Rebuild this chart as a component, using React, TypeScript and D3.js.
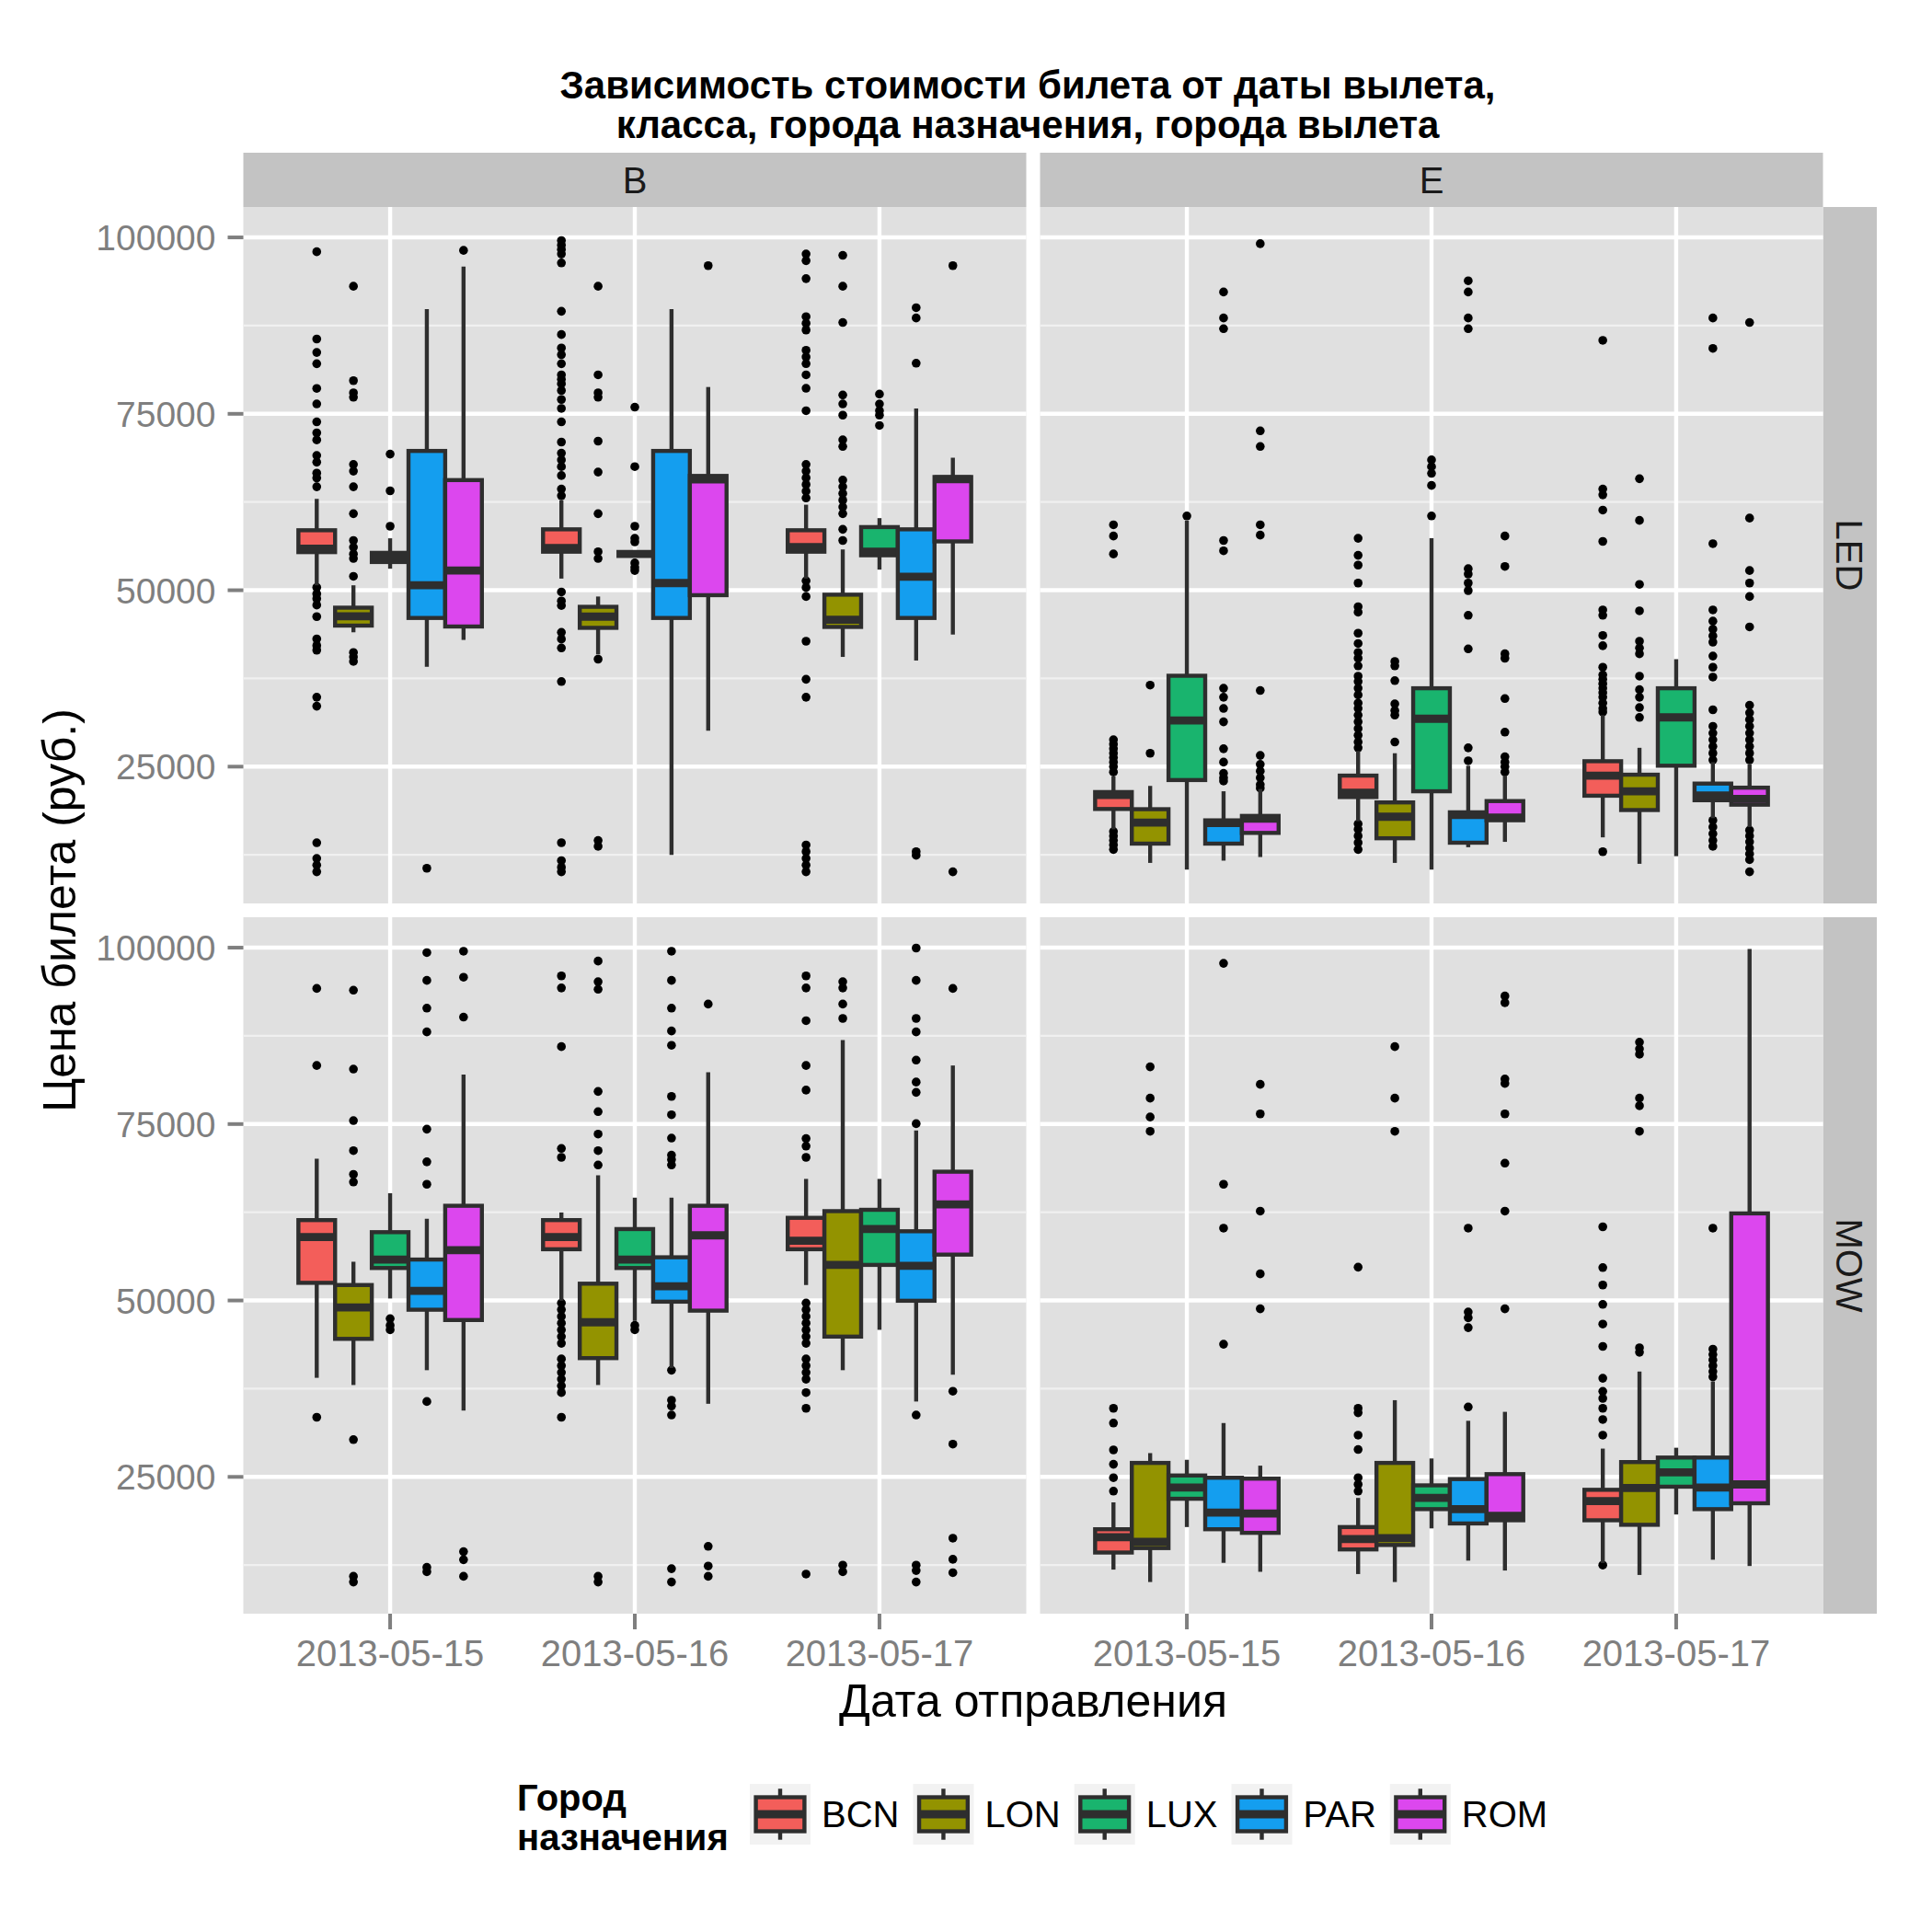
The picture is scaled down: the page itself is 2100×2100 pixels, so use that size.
import React from "react";
import * as d3 from "d3";

// ---------- data ----------
const dates = ["2013-05-15", "2013-05-16", "2013-05-17"];
const cities = ["BCN", "LON", "LUX", "PAR", "ROM"];
const classes = ["B", "E"];
const origins = ["LED", "MOW"];
const cityColors = ["#F35E5A", "#939300", "#19B46E", "#149EEF", "#DC47EE"];
const yTicks = [25000, 50000, 75000, 100000];
const yMinorTicks = [12500, 37500, 62500, 87500];
const yDomain = [5614, 104310];

// box stats per (date, city): [lower whisker, q1, median, q3, upper whisker]
const statsB_LED = [
  [50700, 55400, 55900, 58500, 62950],
  [44040, 44990, 46320, 47530, 50700],
  [53050, 54000, 54700, 55300, 57360],
  [39150, 46070, 50700, 69740, 89850],
  [42960, 44860, 52800, 65610, 95880],
  [51650, 55460, 55970, 58630, 62750],
  [40900, 44670, 46260, 47650, 49110],
  [55140, 55140, 55140, 55140, 55140],
  [12500, 46070, 51020, 69740, 89850],
  [30080, 49300, 65700, 66200, 78800],
  [51650, 55460, 56100, 58500, 62120],
  [40550, 44800, 45810, 49370, 55780],
  [52920, 54950, 55460, 58950, 60220],
  [40040, 46070, 51910, 58630, 75760],
  [43720, 56920, 65740, 66050, 68780],
];
const outB_LED = [
  [97970, 85600, 83700, 82100, 78600, 76400, 73860, 72300, 71300, 69100, 68150, 66600, 65900, 64660, 50400, 49500, 48800, 47900, 46260, 43100, 42150, 41500, 34840, 33570, 14210, 12000, 11050, 10100],
  [93080, 79700, 77980, 77350, 67830, 66880, 64660, 60850, 57050, 56100, 55140, 54500, 51970, 41180, 40550, 39910],
  [69290, 64090, 59070],
  [10600],
  [98160],
  [99560, 98900, 98290, 97650, 96380, 89530, 86230, 84330, 83380, 82100, 80520, 79890, 79250, 78300, 77030, 75760, 73860, 71000, 69420, 68470, 67520, 66250, 64340, 63390, 49750, 48480, 47840, 44040, 43080, 41820, 37060, 14220, 11680, 10730, 10100],
  [93080, 80520, 77980, 77350, 71130, 66750, 60850, 55460, 54500, 40230, 14530, 13700],
  [75950, 67520, 59070, 57360, 56850, 53870, 53240, 52800],
  [],
  [96000],
  [97650, 96700, 94160, 88770, 87820, 86870, 84010, 83060, 82110, 80520, 78620, 75440, 67830, 66880, 65930, 64980, 64030, 63070, 51330, 50380, 49110, 42770, 37380, 34840, 13900, 12950, 12000, 11050, 10100],
  [97460, 93080, 87940, 77670, 76400, 74810, 71320, 70370, 65610, 64660, 63710, 62750, 61800, 60850, 58630, 57050],
  [77790, 76400, 75440, 74810, 73350],
  [90040, 88580, 82170, 12950, 12440],
  [96000, 10100],
];

const statsE_LED = [
  [16120, 19000, 21000, 21400, 23610],
  [11360, 14090, 17070, 18970, 22270],
  [10410, 23100, 31540, 37880, 59900],
  [11680, 14090, 17010, 17390, 21510],
  [12190, 15610, 17640, 18020, 21830],
  [17260, 20690, 21320, 23730, 27220],
  [11360, 14850, 17900, 19930, 26900],
  [10410, 21510, 31790, 36110, 57360],
  [13580, 14220, 18150, 18530, 25130],
  [14340, 17400, 17800, 20120, 23730],
  [14980, 20880, 23730, 25770, 32300],
  [11230, 18850, 21510, 23860, 27670],
  [12310, 25130, 31980, 36110, 40230],
  [17700, 20240, 20900, 22600, 25640],
  [16440, 19610, 20430, 22020, 25320],
];
const outE_LED = [
  [59270, 57680, 55140, 28810, 28170, 27540, 26900, 26270, 25640, 25000, 24240, 15800, 15170, 14530, 13900, 13260],
  [36550, 26900],
  [60530],
  [92260, 88580, 87060, 57050, 55590, 36110, 34840, 33250, 31350, 27540, 25640, 24050, 23420, 22970],
  [99110, 72590, 70370, 59270, 57810, 35790, 26590, 25320, 24370, 23420, 22460, 21960],
  [57360, 54950, 53560, 51020, 47660, 46890, 43910, 42450, 41180, 40360, 39280, 37820, 37060, 36110, 35150, 34010, 33250, 32300, 31350, 30400, 29440, 28490, 27670, 16880, 16120, 15170, 14220, 13260],
  [39910, 39280, 37190, 33890, 32930, 32300, 28490],
  [68470, 67520, 66560, 64850, 60530],
  [93850, 92260, 88580, 87060, 53050, 52290, 51020, 49940, 46450, 41690, 27670, 25830],
  [57680, 53370, 40990, 40360, 34650, 29890, 26400, 25640, 25000, 24240],
  [85410, 64340, 63520, 61360, 56920, 47210, 46450, 43590, 42130, 39090, 38010, 37380, 36740, 36110, 35470, 34840, 34010, 33250, 32740, 12950],
  [65800, 59900, 50830, 47080, 42770, 41820, 40990, 37820, 35910, 34840, 33380, 31980],
  [],
  [88580, 84270, 56600, 47210, 45620, 44480, 43530, 42640, 40670, 39090, 37690, 33060, 30720, 29760, 28810, 27860, 26900, 25950, 17390, 16440, 15490, 14530, 13700],
  [87940, 60220, 52790, 51020, 49110, 44800, 33700, 32620, 31670, 30720, 29760, 28810, 27860, 26900, 25950, 15990, 15170, 14340, 13450, 12630, 11820, 10100],
];

const statsB_MOW = [
  [39040, 52500, 58980, 61390, 70090],
  [38020, 44560, 49010, 52190, 55490],
  [50280, 54600, 55800, 59680, 65200],
  [40120, 48690, 51360, 55800, 61580],
  [34400, 47230, 57140, 63420, 82030],
  [49960, 57260, 58980, 61390, 62470],
  [38020, 41830, 46910, 52380, 67740],
  [47100, 54600, 55800, 60120, 64570],
  [40440, 49830, 52000, 56120, 64570],
  [35360, 48560, 59230, 63420, 82350],
  [52190, 57260, 58470, 61710, 67230],
  [40120, 44880, 55040, 62660, 86920],
  [45840, 55040, 60120, 62850, 67230],
  [35680, 49960, 54920, 59810, 74090],
  [39480, 56500, 63620, 68250, 83300],
];
const outB_MOW = [
  [94220, 83300, 33450],
  [93970, 82790, 75490, 71230, 67870, 66790, 30280, 10910, 10100],
  [47420, 46470, 45840],
  [99300, 95360, 91430, 88060, 74280, 69650, 66470, 35680, 12180, 11550],
  [99490, 95810, 90160, 14400, 13260, 10910],
  [96000, 94290, 85970, 71550, 70280, 49640, 48690, 47740, 46790, 45830, 44880, 43930, 41710, 40750, 39800, 38850, 37900, 36940, 33450],
  [98100, 95170, 94100, 79620, 76760, 73580, 71230, 69200, 10910, 10100],
  [46470, 45840],
  [99490, 95360, 91430, 88190, 86160, 78920, 76320, 73010, 70600, 69970, 69200, 40120, 35870, 35040, 33770, 11990, 10100],
  [92000, 15160, 12370, 10910],
  [96000, 94290, 89650, 83300, 79810, 72950, 71870, 70280, 49640, 48690, 47740, 46790, 45830, 44880, 43930, 41710, 40750, 39800, 38850, 36940, 34720, 11230],
  [95170, 94290, 92000, 89970, 12500, 11550],
  [],
  [99940, 95360, 89970, 88060, 84060, 80950, 79490, 75050, 33770, 12500, 11730, 10100],
  [94220, 37140, 29640, 16310, 13320, 11420],
];

const statsE_MOW = [
  [11860, 14280, 16440, 17580, 21390],
  [10100, 14910, 15800, 26980, 28370],
  [17890, 21900, 23480, 25200, 27420],
  [12820, 17580, 19930, 24880, 32630],
  [11550, 17070, 19800, 24750, 26590],
  [11230, 14720, 16180, 17890, 22020],
  [10100, 15350, 16310, 26980, 35870],
  [17700, 20430, 22030, 23800, 27610],
  [13130, 18400, 20430, 24690, 32950],
  [11730, 18850, 19480, 25390, 34220],
  [12800, 18850, 21580, 23170, 29010],
  [11100, 18210, 23420, 27100, 39930],
  [19670, 23610, 25640, 27740, 29130],
  [13260, 20430, 23480, 27740, 38530],
  [12370, 21260, 23930, 62340, 99810],
];
const outE_MOW = [
  [34720, 32630, 28820, 26790, 24880, 22980],
  [83110, 78670, 76000, 73970],
  [],
  [97780, 66470, 60250, 43800],
  [80630, 76440, 62660, 53770, 48820],
  [54720, 34720, 34090, 30910, 28880, 24880, 23930, 22980],
  [85970, 78670, 73970],
  [],
  [60250, 48370, 47550, 46150, 34910],
  [93140, 92190, 81390, 80760, 76440, 69460, 62660, 48820],
  [60440, 54660, 52190, 49450, 46660, 43490, 38980, 37130, 36120, 34720, 33130, 30910, 12500],
  [86600, 85650, 84890, 78670, 77590, 73970, 43300, 42660],
  [],
  [60250, 43100, 42340, 41580, 40750, 39930, 39170],
  [],
];

const titleLines = ["Зависимость стоимости билета от даты вылета,", "класса, города назначения, города вылета"];
const xTitle = "Дата отправления";
const yTitle = "Цена билета (руб.)";
const legendTitle = ["Город", "назначения"];

// ---------- layout ----------
const W = 2100, H = 2100;
const FONT = '"Liberation Sans", Arial, Helvetica, sans-serif';
const panelW = 851, panelH = 757;
const colX = [264.5, 1130.5];
const rowY = [225, 997];
const stripTop = 166, stripH = 59;
const stripRightX = 1981.5, stripRightW = 58.5;
const PANEL_BG = "#E0E0E0";
const STRIP_BG = "#C3C3C3";
const MINOR = "#F0F0F0";
const OUTLINE = "#2E2E2E";
const LW = 4.4;

const panels = [
  { col: 0, row: 0, stats: statsB_LED, out: outB_LED },
  { col: 1, row: 0, stats: statsE_LED, out: outE_LED },
  { col: 0, row: 1, stats: statsB_MOW, out: outB_MOW },
  { col: 1, row: 1, stats: statsE_MOW, out: outE_MOW },
];

function measure(text: string, font: string) {
  const c = document.createElement("canvas").getContext("2d");
  if (!c) return text.length * 22;
  c.font = font;
  return c.measureText(text).width;
}

function Panel({ col, row, stats, out }: any) {
  const x = d3.scalePoint<string>().domain(dates).range([0, panelW]).padding(0.6);
  const step = x.step();
  const dodge = d3.scaleBand<string>().domain(cities).range([-0.375 * step, 0.375 * step]);
  const bw = dodge.bandwidth();
  const y = d3.scaleLinear().domain(yDomain).range([panelH, 0]);
  const items: any[] = [];
  dates.forEach((d, di) => {
    cities.forEach((c, ci) => {
      const idx = di * cities.length + ci;
      const [lo, q1, med, q3, hi] = stats[idx];
      const cx = (x(d) as number) + (dodge(c) as number) + bw / 2;
      items.push(
        <g key={idx}>
          {out[idx].map((v: number, k: number) => (
            <circle key={k} cx={cx} cy={y(v)} r={4.8} fill="#000" />
          ))}
          <line x1={cx} x2={cx} y1={y(hi)} y2={y(q3)} stroke={OUTLINE} strokeWidth={LW} />
          <line x1={cx} x2={cx} y1={y(q1)} y2={y(lo)} stroke={OUTLINE} strokeWidth={LW} />
          <rect x={cx - bw / 2} y={y(q3)} width={bw} height={Math.max(0, y(q1) - y(q3))}
            fill={cityColors[ci]} stroke={OUTLINE} strokeWidth={LW} />
          <line x1={cx - bw / 2} x2={cx + bw / 2} y1={y(med)} y2={y(med)} stroke={OUTLINE} strokeWidth={LW * 2} />
        </g>
      );
    });
  });
  return (
    <g transform={`translate(${colX[col]},${rowY[row]})`}>
      <rect x={0} y={0} width={panelW} height={panelH} fill={PANEL_BG} />
      {yMinorTicks.map((t) => (
        <line key={"m" + t} x1={0} x2={panelW} y1={y(t)} y2={y(t)} stroke={MINOR} strokeWidth={2.2} />
      ))}
      {yTicks.map((t) => (
        <line key={"M" + t} x1={0} x2={panelW} y1={y(t)} y2={y(t)} stroke="#FFFFFF" strokeWidth={LW} />
      ))}
      {dates.map((d) => (
        <line key={d} x1={x(d)} x2={x(d)} y1={0} y2={panelH} stroke="#FFFFFF" strokeWidth={LW} />
      ))}
      {items}
      {col === 0 &&
        yTicks.map((t) => (
          <g key={"yt" + t}>
            <line x1={-17} x2={0} y1={y(t)} y2={y(t)} stroke="#7F7F7F" strokeWidth={4} />
            <text x={-30} y={y(t)} dy="0.36em" textAnchor="end" fontSize={39} fill="#7F7F7F" fontFamily={FONT}>
              {t}
            </text>
          </g>
        ))}
      {row === 1 &&
        dates.map((d) => (
          <g key={"xt" + d}>
            <line x1={x(d)} x2={x(d)} y1={panelH} y2={panelH + 17} stroke="#7F7F7F" strokeWidth={4} />
            <text x={x(d)} y={panelH + 57} textAnchor="middle" fontSize={40} fill="#7F7F7F" fontFamily={FONT}>
              {d}
            </text>
          </g>
        ))}
    </g>
  );
}

function Legend() {
  const keyS = 66;
  const keyY = 1939;
  const font = `40px ${FONT}`;
  let kx = 815;
  const entries: any[] = [];
  cities.forEach((c, i) => {
    const lw = measure(c, font);
    const x0 = kx;
    const cx = x0 + keyS / 2;
    entries.push(
      <g key={c}>
        <rect x={x0} y={keyY} width={keyS} height={keyS} fill="#F2F2F2" />
        <line x1={cx} x2={cx} y1={keyY + keyS * 0.08} y2={keyY + keyS * 0.92} stroke={OUTLINE} strokeWidth={LW} />
        <rect x={x0 + keyS * 0.1} y={keyY + keyS * 0.22} width={keyS * 0.8} height={keyS * 0.56}
          fill={cityColors[i]} stroke={OUTLINE} strokeWidth={LW} />
        <line x1={x0 + keyS * 0.1} x2={x0 + keyS * 0.9} y1={keyY + keyS / 2} y2={keyY + keyS / 2} stroke={OUTLINE} strokeWidth={LW * 2} />
        <text x={x0 + keyS + 12} y={keyY + keyS / 2} dy="0.36em" fontSize={40} fontFamily={FONT} fill="#000">
          {c}
        </text>
      </g>
    );
    kx = x0 + keyS + 12 + lw + 15;
  });
  return (
    <g>
      <text x={562} y={1968} fontSize={40} fontWeight="bold" fontFamily={FONT} fill="#000">{legendTitle[0]}</text>
      <text x={562} y={2011} fontSize={40} fontWeight="bold" fontFamily={FONT} fill="#000">{legendTitle[1]}</text>
      {entries}
    </g>
  );
}

export default function App() {
  const cxAll = (colX[0] + colX[1] + panelW) / 2;
  return (
    <svg width={W} height={H} viewBox={`0 0 ${W} ${H}`}
      style={{ position: "absolute", left: 0, top: 0, background: "#fff" }}>
      <rect x={0} y={0} width={W} height={H} fill="#fff" />
      <text x={1117} y={107} textAnchor="middle" fontSize={42} fontWeight="bold" fontFamily={FONT}>{titleLines[0]}</text>
      <text x={1117} y={150} textAnchor="middle" fontSize={42} fontWeight="bold" fontFamily={FONT}>{titleLines[1]}</text>
      {classes.map((cl, i) => (
        <g key={cl}>
          <rect x={colX[i]} y={stripTop} width={panelW} height={stripH} fill={STRIP_BG} />
          <text x={colX[i] + panelW / 2} y={stripTop + stripH / 2} dy="0.36em" textAnchor="middle"
            fontSize={40} fontFamily={FONT} fill="#1A1A1A">{cl}</text>
        </g>
      ))}
      {origins.map((o, i) => (
        <g key={o}>
          <rect x={stripRightX} y={rowY[i]} width={stripRightW} height={panelH} fill={STRIP_BG} />
          <text transform={`translate(${stripRightX + stripRightW / 2},${rowY[i] + panelH / 2}) rotate(90)`}
            dy="0.36em" textAnchor="middle" fontSize={40} fontFamily={FONT} fill="#1A1A1A">{o}</text>
        </g>
      ))}
      {panels.map((p, i) => <Panel key={i} {...p} />)}
      <text x={cxAll} y={1866} textAnchor="middle" fontSize={50} fontFamily={FONT}>{xTitle}</text>
      <text transform={`translate(64,${(rowY[0] + rowY[1] + panelH) / 2}) rotate(-90)`} dy="0.36em"
        textAnchor="middle" fontSize={50} fontFamily={FONT}>{yTitle}</text>
      <Legend />
    </svg>
  );
}
